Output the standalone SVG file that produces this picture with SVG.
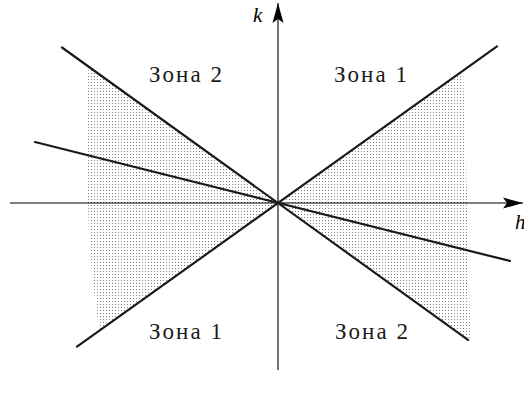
<svg xmlns="http://www.w3.org/2000/svg" width="524" height="398" viewBox="0 0 524 398">
<style>
.axis{stroke:#000;stroke-width:1.1;fill:none}
.ray{stroke:#1a1a1a;stroke-width:2.2;fill:none;stroke-linecap:round}
.lbl{font-size:23px;fill:#1a1a1a}
.var{font-style:italic;font-size:21px;fill:#000}
</style>
<defs>
<pattern id="dots" width="3" height="3" patternUnits="userSpaceOnUse">
<circle cx="1.5" cy="1.5" r="0.5" fill="#555"/>
</pattern>
<marker id="arr" markerUnits="userSpaceOnUse" markerWidth="24" markerHeight="14" refX="0" refY="0" viewBox="-22 -7 24 14" orient="auto" overflow="visible">
<path d="M0,0 L-20,-5.5 L-16,0 L-20,5.5 Z" fill="#000"/>
</marker>
</defs>
<g id="shading">
<path d="M278,203 L86,64.8 Q85,260 100,330 Z" fill="url(#dots)"/>
<path d="M278,203 L463,70.7 Q468,200 470,341 Z" fill="url(#dots)"/>
</g>
<g id="connectors">
<line class="axis" x1="10" y1="203" x2="523" y2="203" marker-end="url(#arr)"/>
<line class="axis" x1="278" y1="370" x2="278" y2="3" marker-end="url(#arr)"/>
<line class="ray" x1="62" y1="47.5" x2="468" y2="339.8"/>
<line class="ray" x1="77" y1="346.7" x2="497" y2="46.4"/>
<line class="ray" x1="35" y1="142" x2="510" y2="261"/>
</g>
<g id="zone-tl"><text class="lbl" font-family="Liberation Serif, serif" x="149" y="82" textLength="73" lengthAdjust="spacing">Зона 2</text></g>
<g id="zone-tr"><text class="lbl" font-family="Liberation Serif, serif" x="334" y="82" textLength="73" lengthAdjust="spacing">Зона 1</text></g>
<g id="zone-bl"><text class="lbl" font-family="Liberation Serif, serif" x="149" y="339" textLength="73" lengthAdjust="spacing">Зона 1</text></g>
<g id="zone-br"><text class="lbl" font-family="Liberation Serif, serif" x="335" y="339" textLength="73" lengthAdjust="spacing">Зона 2</text></g>
<g id="label-k"><text class="var" font-family="Liberation Serif, serif" x="253" y="22">k</text></g>
<g id="label-h"><text class="var" font-family="Liberation Serif, serif" x="515" y="229">h</text></g>
</svg>
